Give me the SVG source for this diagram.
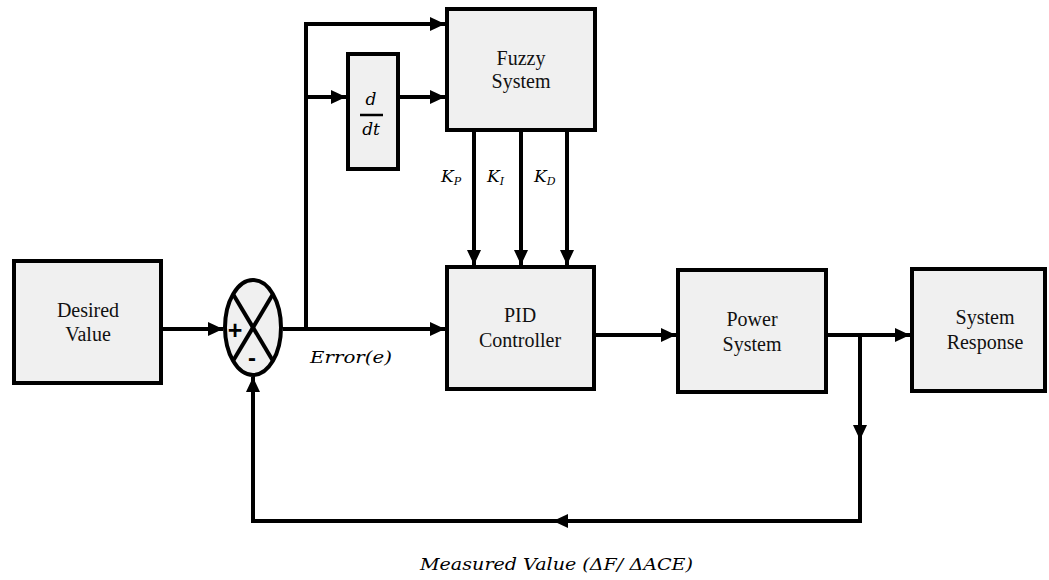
<svg xmlns="http://www.w3.org/2000/svg" width="1049" height="580" viewBox="0 0 1049 580">
<style>
.box{fill:#f0f0f0;stroke:#000;stroke-width:4}
.lbl{font-family:"Liberation Serif","Times New Roman",serif;font-size:20px;fill:#111;text-anchor:middle}
.math{font-family:"DejaVu Serif","Liberation Serif",serif;font-style:italic;font-size:17px;fill:#000}
.sub{font-size:11px}
.wire{fill:none;stroke:#000;stroke-width:4}
.arr{marker-end:url(#ah)}
.sign{font-family:"Liberation Sans",Arial,sans-serif;font-weight:bold;fill:#000;text-anchor:middle}
</style>
<defs>
<marker id="ah" viewBox="0 0 15 14" refX="15" refY="7" markerWidth="15" markerHeight="14" markerUnits="userSpaceOnUse" orient="auto">
<path d="M0,0 L15,7 L0,14 z" fill="#000"/>
</marker>
</defs>
<rect width="1049" height="580" fill="#fff"/>

<g id="connectors">
<path class="wire arr" d="M163,329 L223,329"/>
<path class="wire arr" d="M283,329 L445,329"/>
<path class="wire" d="M306,329 L306,22"/>
<path class="wire arr" d="M304,24 L445,24"/>
<path class="wire arr" d="M306,97 L346,97"/>
<path class="wire arr" d="M400,97 L445,97"/>
<path class="wire arr" d="M474,132 L474,265"/>
<path class="wire arr" d="M521,132 L521,265"/>
<path class="wire arr" d="M567,132 L567,265"/>
<path class="wire arr" d="M596,335 L676,335"/>
<path class="wire arr" d="M828,335 L910,335"/>
<path class="wire arr" d="M860,335 L860,440"/>
<path class="wire arr" d="M860,438 L860,521 L553,521"/>
<path class="wire arr" d="M555,521 L253,521 L253,377"/>
</g>

<g id="desired">
<rect class="box" x="14" y="261" width="147" height="122"/>
<text class="lbl" x="88" y="317">Desired</text>
<text class="lbl" x="88" y="341">Value</text>
</g>

<g id="sum">
<ellipse cx="253" cy="327.5" rx="28" ry="47.5" fill="#f0f0f0" stroke="#000" stroke-width="4"/>
<line x1="233" y1="294" x2="273" y2="361" stroke="#000" stroke-width="4"/>
<line x1="273" y1="294" x2="233" y2="361" stroke="#000" stroke-width="4"/>
<text class="sign" x="235" y="339" font-size="25">+</text>
<text class="sign" x="252" y="366" font-size="24">-</text>
</g>

<g id="ddt">
<rect class="box" x="348" y="54" width="50" height="115"/>
<text class="math" x="371" y="105" font-size="19" text-anchor="middle">d</text>
<line x1="360" y1="115" x2="383" y2="115" stroke="#000" stroke-width="2.5"/>
<text class="math" x="371" y="135" font-size="19" text-anchor="middle">dt</text>
</g>

<g id="fuzzy">
<rect class="box" x="447" y="9" width="148" height="121"/>
<text class="lbl" x="521" y="65">Fuzzy</text>
<text class="lbl" x="521" y="88">System</text>
</g>

<g id="gains">
<text class="math" x="441" y="182">K<tspan class="sub" dy="3">P</tspan></text>
<text class="math" x="487" y="182">K<tspan class="sub" dy="3">I</tspan></text>
<text class="math" x="534" y="182">K<tspan class="sub" dy="3">D</tspan></text>
</g>

<g id="pid">
<rect class="box" x="447" y="267" width="147" height="122"/>
<text class="lbl" x="520" y="322">PID</text>
<text class="lbl" x="520" y="347">Controller</text>
</g>

<g id="power">
<rect class="box" x="678" y="270" width="148" height="122"/>
<text class="lbl" x="752" y="326">Power</text>
<text class="lbl" x="752" y="351">System</text>
</g>

<g id="response">
<rect class="box" x="912" y="269" width="133" height="122"/>
<text class="lbl" x="985" y="324">System</text>
<text class="lbl" x="985" y="349">Response</text>
</g>

<g id="labels">
<text class="math" x="310" y="363" font-size="18" textLength="82" lengthAdjust="spacingAndGlyphs">Error(e)</text>
<text class="math" x="420" y="570" font-size="18" textLength="273" lengthAdjust="spacingAndGlyphs">Measured Value (ΔF/ ΔACE)</text>
</g>
</svg>
